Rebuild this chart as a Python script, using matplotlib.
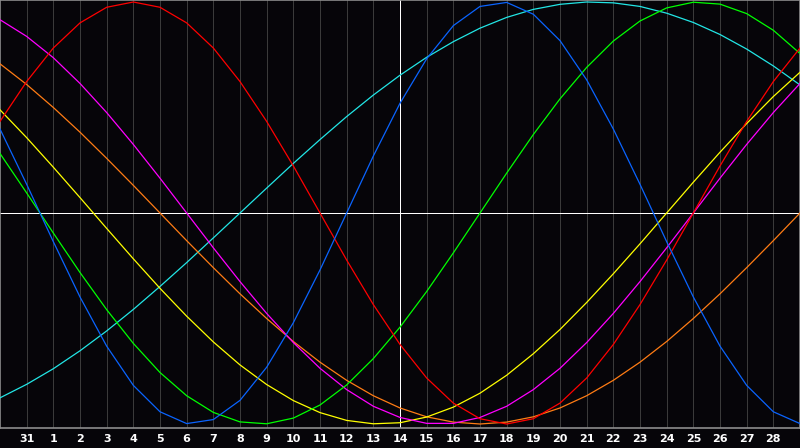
import matplotlib
matplotlib.use("Agg")
import matplotlib.pyplot as plt

# day index across the window (one point per day), and the labels at the grid lines
days = list(range(31))
tick_days = list(range(1, 30))
tick_labels = ["31"] + [str(i) for i in range(1, 29)]
today = 15

# cycle values, one per day
physical = [0.398, 0.136, -0.136, -0.398, -0.631, -0.817, -0.942, -0.998, -0.979, -0.888, -0.731, -0.520, -0.270, -0.000, 0.270, 0.520, 0.731, 0.888, 0.979, 0.998, 0.942, 0.817, 0.631, 0.398, 0.136, -0.136, -0.398, -0.631, -0.817, -0.942, -0.998]
emotional = [0.434, 0.623, 0.782, 0.901, 0.975, 1.000, 0.975, 0.901, 0.782, 0.623, 0.434, 0.223, 0.000, -0.223, -0.434, -0.623, -0.782, -0.901, -0.975, -1.000, -0.975, -0.901, -0.782, -0.623, -0.434, -0.223, -0.000, 0.223, 0.434, 0.623, 0.782]
intellectual = [0.282, 0.095, -0.095, -0.282, -0.458, -0.618, -0.756, -0.866, -0.945, -0.990, -0.999, -0.972, -0.910, -0.815, -0.690, -0.541, -0.372, -0.189, 0.000, 0.189, 0.372, 0.541, 0.690, 0.815, 0.910, 0.972, 0.999, 0.990, 0.945, 0.866, 0.756]
intuitive = [0.916, 0.837, 0.736, 0.614, 0.476, 0.325, 0.165, -0.000, -0.165, -0.325, -0.476, -0.614, -0.736, -0.837, -0.916, -0.969, -0.997, -0.997, -0.969, -0.916, -0.837, -0.736, -0.614, -0.476, -0.325, -0.165, -0.000, 0.165, 0.325, 0.476, 0.614]
aesthetic = [0.489, 0.357, 0.217, 0.073, -0.073, -0.217, -0.357, -0.489, -0.611, -0.720, -0.813, -0.889, -0.946, -0.983, -0.999, -0.994, -0.967, -0.920, -0.854, -0.769, -0.667, -0.552, -0.424, -0.288, -0.146, -0.000, 0.146, 0.288, 0.424, 0.552, 0.667]
awareness = [0.707, 0.609, 0.500, 0.383, 0.259, 0.131, 0.000, -0.131, -0.259, -0.383, -0.500, -0.609, -0.707, -0.793, -0.866, -0.924, -0.966, -0.991, -1.000, -0.991, -0.966, -0.924, -0.866, -0.793, -0.707, -0.609, -0.500, -0.383, -0.259, -0.131, -0.000]
spiritual = [-0.876, -0.812, -0.738, -0.653, -0.559, -0.457, -0.348, -0.235, -0.118, -0.000, 0.118, 0.235, 0.348, 0.457, 0.559, 0.653, 0.738, 0.812, 0.876, 0.927, 0.965, 0.989, 1.000, 0.996, 0.979, 0.947, 0.903, 0.846, 0.777, 0.697, 0.607]

bg = "#060509"
fig = plt.figure(figsize=(8, 4.48), dpi=100, facecolor=bg)
ax = fig.add_axes([0, 20 / 448, 1, 428 / 448])
ax.set_facecolor(bg)

# grid + crosshair
for d in tick_days:
    if d != today:
        ax.axvline(d, color="#3a3a3a", lw=0.72, antialiased=False, zorder=1)
ax.axvline(today, color="white", lw=0.72, antialiased=False, zorder=2)
ax.axhline(0, color="white", lw=0.72, antialiased=False, zorder=2)

ax.plot(days, spiritual, color="#22e6e6", lw=0.9, zorder=3)
ax.plot(days, awareness, color="#ff7c14", lw=0.9, zorder=3)
ax.plot(days, aesthetic, color="#ffff00", lw=0.9, zorder=3)
ax.plot(days, intuitive, color="#ff00ff", lw=0.9, zorder=3)
ax.plot(days, intellectual, color="#00ff00", lw=0.9, zorder=3)
ax.plot(days, emotional, color="#ff0000", lw=0.9, zorder=3)
ax.plot(days, physical, color="#0a64ff", lw=0.9, zorder=3)

ax.set_xlim(0, 30)
ax.set_ylim(-215 / 211, 213 / 211)
ax.set_yticks([])
ax.set_xticks(tick_days)
ax.set_xticklabels(tick_labels, color="white", fontsize=8, fontweight="bold")
ax.tick_params(axis="x", length=0, pad=4)
for s in ax.spines.values():
    s.set_color("#8c8c8c")
    s.set_linewidth(1.2)

fig.savefig("out.png", dpi=100, facecolor=bg)
